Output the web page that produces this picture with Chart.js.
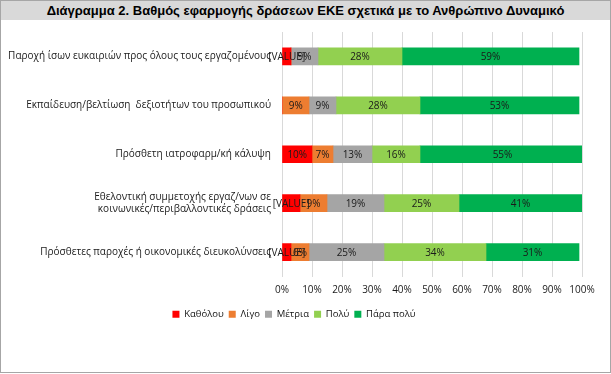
<!DOCTYPE html>
<html>
<head>
<meta charset="utf-8">
<script src="https://cdn.jsdelivr.net/npm/chart.js@4/dist/chart.umd.min.js"></script>
<style>
  html, body { margin: 0; padding: 0; background: #fff; }
  #frame { position: absolute; left: 0; top: 0; width: 611px; height: 373px; box-sizing: border-box; border: 1px solid #a6a6a6; background: #fff; overflow: hidden; }
  #title { position: absolute; left: 0; top: 0; width: 609px; height: 19px; background: #d9d9d9; font-family: "Liberation Sans", Arial, sans-serif; font-weight: bold; font-size: 13px; line-height: 19px; text-align: center; color: #000; }
  #wrap { position: absolute; left: 0; top: 19px; width: 609px; height: 353px; }
</style>
</head>
<body>
<div id="frame">
  <div id="title">Διάγραμμα 2. Βαθμός εφαρμογής δράσεων ΕΚΕ σχετικά με το Ανθρώπινο Δυναμικό</div>
  <div id="wrap"><canvas id="c" width="609" height="353"></canvas></div>
</div>
<script>
const categories = [
  "Παροχή ίσων ευκαιριών προς όλους τους εργαζομένους",
  "Εκπαίδευση/βελτίωση  δεξιοτήτων του προσωπικού",
  "Πρόσθετη ιατροφαρμ/κή κάλυψη",
  ["Εθελοντική συμμετοχής εργαζ/νων σε", "κοινωνικές/περιβαλλοντικές δράσεις"],
  "Πρόσθετες παροχές ή οικονομικές διευκολύνσεις"
];
const seriesNames = ["Καθόλου", "Λίγο", "Μέτρια", "Πολύ", "Πάρα πολύ"];
const katholou = [3, 0, 10, 6, 3];
const ligo = [0, 9, 7, 9, 6];
const metria = [9, 9, 13, 19, 25];
const poly = [28, 28, 16, 25, 34];
const paraPoly = [59, 53, 55, 41, 31];
// cells whose data label shows the placeholder text "[VALUE]"
const katholouPlaceholder = [true, false, false, true, true];
const xTicks = [0, 10, 20, 30, 40, 50, 60, 70, 80, 90, 100];

const colors = ["#FF0000", "#ED7D31", "#A5A5A5", "#92D050", "#00B050"];
const allSeries = [katholou, ligo, metria, poly, paraPoly];

const labelFont = '"Open Sans", "Noto Sans", sans-serif';

const dataLabels = {
  id: 'dataLabels',
  afterDatasetsDraw(chart) {
    const ctx = chart.ctx;
    ctx.save();
    ctx.font = '10px ' + labelFont;
    ctx.fillStyle = '#1a1a1a';
    ctx.textAlign = 'center';
    ctx.textBaseline = 'middle';
    chart.data.datasets.forEach((ds, di) => {
      const meta = chart.getDatasetMeta(di);
      meta.data.forEach((el, i) => {
        const v = ds.data[i];
        if (!v) return;
        const p = el.getProps(['x', 'y', 'base'], true);
        let txt = v + '%';
        if (di === 0 && katholouPlaceholder[i]) txt = '[VALUE]';
        ctx.fillText(txt, (p.x + p.base) / 2, p.y + 1);
      });
    });
    ctx.restore();
  }
};

new Chart(document.getElementById('c'), {
  type: 'bar',
  data: {
    labels: categories,
    datasets: seriesNames.map((n, i) => ({
      label: n,
      data: allSeries[i],
      backgroundColor: colors[i],
      borderWidth: 0,
      barThickness: 17
    }))
  },
  options: {
    indexAxis: 'y',
    responsive: false,
    animation: false,
    layout: { padding: { top: 12, right: 28, bottom: 44, left: 5 } },
    scales: {
      x: {
        stacked: true,
        min: 0, max: 100,
        afterBuildTicks(scale) { scale.ticks = xTicks.map(v => ({ value: v })); },
        grid: { color: '#d9d9d9', drawTicks: true, tickLength: 0 },
        border: { display: false },
        ticks: { padding: 8, minRotation: 0, maxRotation: 0, autoSkip: false, color: '#1a1a1a', font: { family: labelFont, size: 10 }, callback: v => v + '%' }
      },
      y: {
        stacked: true,
        grid: { display: false },
        border: { display: false },
        afterFit(scale) { scale.width = 276; },
        ticks: { padding: 3, color: '#1a1a1a', font: { family: labelFont, size: 10 } }
      }
    },
    plugins: {
      legend: {
        position: 'bottom',
        labels: { boxWidth: 7, boxHeight: 7, padding: 5, color: '#111', font: { family: labelFont, size: 9.5 } }
      },
      tooltip: { enabled: false },
      title: { display: false }
    }
  },
  plugins: [dataLabels]
});
</script>
</body>
</html>
